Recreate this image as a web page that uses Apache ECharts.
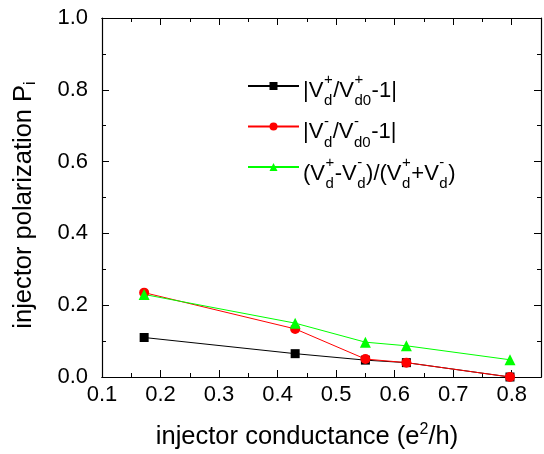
<!DOCTYPE html>
<html><head><meta charset="utf-8">
<script src="https://cdn.jsdelivr.net/npm/echarts@6/dist/echarts.min.js"></script>
<style>html,body{margin:0;padding:0;background:#fff}#c{width:544px;height:454px}</style>
</head><body><div id="c"></div>
<script>
// ---- data ----
const conductance = [0.172, 0.430, 0.550, 0.620, 0.797];
const vPlusPol   = [0.110, 0.065, 0.047, 0.040, 0.000];
const vMinusPol  = [0.235, 0.134, 0.050, 0.040, 0.000];
const ratioPol   = [0.230, 0.150, 0.097, 0.087, 0.048];
const seriesNames = ['|Vd+/Vd0+-1|', '|Vd-/Vd0--1|', '(Vd+-Vd-)/(Vd++Vd-)'];
const xTickLabels = ['0.1','0.2','0.3','0.4','0.5','0.6','0.7','0.8'];
const yTickLabels = ['0.0','0.2','0.4','0.6','0.8','1.0'];
// legend label pieces: string = normal text, [sub, sup] = stacked sub/superscript
const legendPieces = [
  ['|V', ['d','+'], '/V', ['d0','+'], '-1|'],
  ['|V', ['d','-'], '/V', ['d0','-'], '-1|'],
  ['(V', ['d','+'], '-V', ['d','-'], ')/(V', ['d','+'], '+V', ['d','-'], ')']
];

const FF = '"Liberation Sans", Arial, sans-serif';
const TICK_FS = 22, TITLE_FS = 25.5, LEG_FS = 22, LEG_SUB = 15;
const ctx = document.createElement('canvas').getContext('2d');
function tw(s, size) { ctx.font = size + 'px ' + FF; return ctx.measureText(s).width; }

function buildLabel(pieces, x0, ym) {
  const els = []; let x = x0;
  pieces.forEach(p => {
    if (typeof p === 'string') {
      els.push({type:'text', x: x, y: ym, silent:true, style:{text:p, font: LEG_FS+'px '+FF, fill:'#000', align:'left', verticalAlign:'middle'}});
      x += tw(p, LEG_FS);
    } else {
      els.push({type:'text', x: x + 0.5, y: ym + 10.5, silent:true, style:{text:p[0], font: LEG_SUB+'px '+FF, fill:'#000', align:'left', verticalAlign:'middle'}});
      els.push({type:'text', x: x + 0.5, y: ym - 10.5, silent:true, style:{text:p[1], font: LEG_SUB+'px '+FF, fill:'#000', align:'left', verticalAlign:'middle'}});
      x += Math.max(tw(p[0], LEG_SUB), tw(p[1], LEG_SUB)) + 1;
    }
  });
  return els;
}

const legendX = 303, legendY0 = 90.5, legendStep = 41.5;
let graphics = [];
legendPieces.forEach((p, i) => { graphics = graphics.concat(buildLabel(p, legendX, legendY0 + i * legendStep)); });
graphics.push({type:'text', x: 307, y: 437, silent:true, style:{
  text:'{a|injector conductance (e}{s|2}{a|/h)}', align:'center', verticalAlign:'middle', fill:'#000',
  rich:{a:{fontSize:TITLE_FS, fontFamily:FF, lineHeight:30, fill:'#000'}, s:{fontSize:16, fontFamily:FF, lineHeight:17, verticalAlign:'top', fill:'#000'}}}});
graphics.push({type:'text', x: 24, y: 205, rotation: Math.PI/2, silent:true, style:{
  text:'{a|injector polarization P}{b|i}', align:'center', verticalAlign:'middle', fill:'#000',
  rich:{a:{fontSize:TITLE_FS, fontFamily:FF, lineHeight:30, fill:'#000'}, b:{fontSize:16, fontFamily:FF, lineHeight:17, verticalAlign:'bottom', fill:'#000'}}}});

const axLine = {show:true, lineStyle:{color:'#000', width:1.2}};
function xAx(pos, interval, len, labels) {
  return {type:'value', position:pos, min:0.1, max:0.85, interval:interval,
    axisLine: axLine, splitLine:{show:false},
    axisTick:{show:true, inside:true, length:len, lineStyle:{color:'#000', width:1}},
    axisLabel: labels ? {show:true, color:'#000', fontSize:TICK_FS, fontFamily:FF, margin:7,
      formatter: v => { const k = Math.round((v - 0.1) * 10); return k >= 0 && k < xTickLabels.length ? xTickLabels[k] : ''; }} : {show:false}};
}
function yAx(pos, labels) {
  return {type:'value', position:pos, min:0, max:1, interval:0.2,
    axisLine: axLine, splitLine:{show:false},
    axisTick:{show:true, inside:true, length:7, lineStyle:{color:'#000', width:1}},
    minorTick:{show:true, splitNumber:2, length:4, lineStyle:{color:'#000', width:1}},
    axisLabel: labels ? {show:true, color:'#000', fontSize:TICK_FS, fontFamily:FF, margin:14,
      formatter: v => yTickLabels[Math.round(v * 5)]} : {show:false}};
}

const chart = echarts.init(document.getElementById('c'), null, {renderer:'canvas'});
chart.setOption({
  animation:false,
  backgroundColor:'#fff',
  grid:{left:102, right:1, top:18, bottom:77, containLabel:false},
  xAxis:[xAx('bottom', 0.1, 7, true), xAx('bottom', 0.05, 4, false), xAx('top', 0.1, 7, false), xAx('top', 0.05, 4, false)],
  yAxis:[yAx('left', true), yAx('right', false)],
  legend:{orient:'vertical', left:247, top:81, padding:0, itemWidth:51, itemHeight:10, itemGap:31.5,
    selectedMode:false, formatter: () => '', data: seriesNames},
  graphic: graphics,
  series:[
    {name:seriesNames[0], type:'line', data: conductance.map((x,i)=>[x, vPlusPol[i]]), symbol:'rect', symbolSize:9,
     itemStyle:{color:'#000'}, lineStyle:{color:'#000', width:1}},
    {name:seriesNames[1], type:'line', data: conductance.map((x,i)=>[x, vMinusPol[i]]), symbol:'circle', symbolSize:10,
     itemStyle:{color:'#ff0000'}, lineStyle:{color:'#ff0000', width:1}},
    {name:seriesNames[2], type:'line', data: conductance.map((x,i)=>[x, ratioPol[i]]), symbol:'triangle', symbolSize:11,
     itemStyle:{color:'#00ff00'}, lineStyle:{color:'#00ff00', width:1}}
  ]
});
</script></body></html>
